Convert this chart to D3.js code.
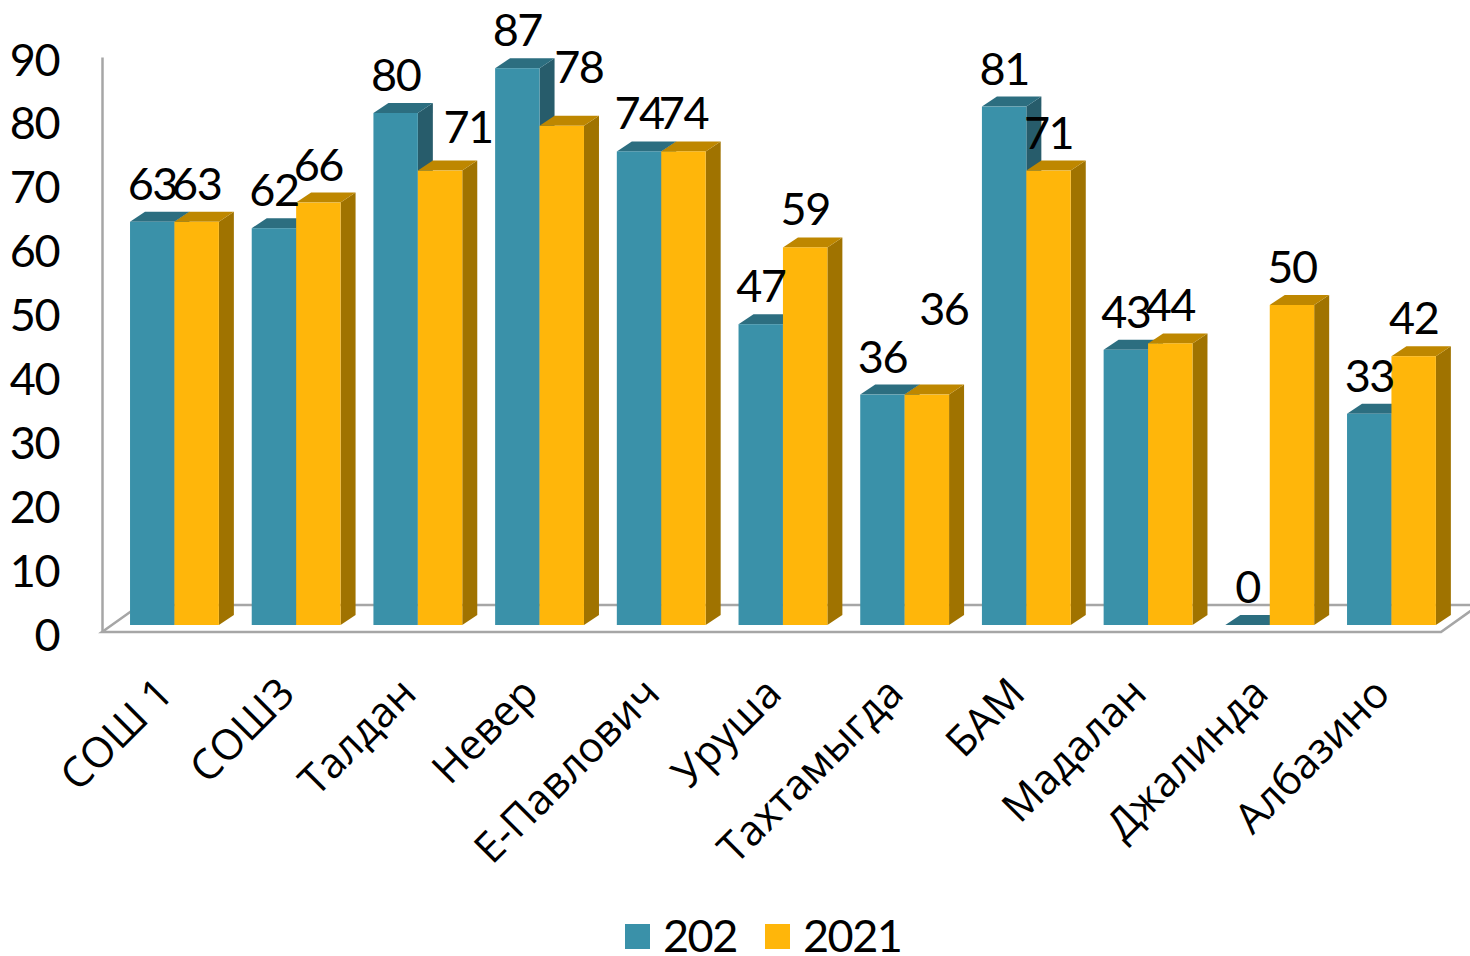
<!DOCTYPE html>
<html>
<head>
<meta charset="utf-8">
<script src="https://cdn.jsdelivr.net/npm/d3@7"></script>
<style>
  html, body { margin: 0; padding: 0; background: #fff; overflow: hidden; }
  text { fill: #000; font-family: Lato, sans-serif; letter-spacing: -1.5px; }
  .x-axis text { font-family: "Open Sans", sans-serif; letter-spacing: 0; }
</style>
</head>
<body>
<div id="chart-area"></div>
<script>
var categories = ["СОШ 1", "СОШ3", "Талдан", "Невер", "Е-Павлович", "Уруша",
                  "Тахтамыгда", "БАМ", "Мадалан", "Джалинда", "Албазино"];
var values202 = [63, 62, 80, 87, 74, 47, 36, 81, 43, 0, 33];
var values2021 = [63, 66, 71, 78, 74, 59, 36, 71, 44, 50, 42];
var yTicks = [0, 10, 20, 30, 40, 50, 60, 70, 80, 90];

var seriesNames = ["202", "2021"];
var seriesValues = [values202, values2021];

// front, top and side colours of each series
var colors = [
  { front: "#3a91a9", top: "#2c6e80", side: "#275c6b" },
  { front: "#ffb60a", top: "#be8700", side: "#a07300" }
];

var width = 1470, height = 956;
var depth = { x: 15, y: 10 };   // bar depth
var floor = { x: 38, y: 27 };   // floor depth

// labels the original chart had dragged away from their bars
var labelMoves = { "2021-Талдан": [28, -6], "2021-Невер": [17, -21], "2021-Тахтамыгда": [17, -48] };

var svg = d3.select("#chart-area")
  .append("svg")
    .attr("width", width)
    .attr("height", height)
    .style("display", "block");

// x scales
var x0 = d3.scaleBand()
    .domain(categories)
    .range([113.6, 1452.3])
    .paddingInner(0.27)
    .paddingOuter(0.135);

var x1 = d3.scaleBand()
    .domain(seriesNames)
    .range([0, x0.bandwidth()]);

// y scale of the bars (front plane) and of the axis (back corner)
var y = d3.scaleLinear().domain([0, 90]).range([625, 49]);
var yAxisScale = d3.scaleLinear().domain([0, 90]).range([632, 57]);

// floor
var gridColor = "#a6a6a6";
var fx0 = 102, fx1 = 1441, fy = yAxisScale(0);
svg.append("path")
    .attr("d", "M" + fx0 + "," + fy + "L" + fx1 + "," + fy
             + "L" + (fx1 + floor.x) + "," + (fy - floor.y)
             + "L" + (fx0 + floor.x) + "," + (fy - floor.y) + "Z")
    .attr("fill", "#fff")
    .attr("stroke", gridColor)
    .attr("stroke-width", 2.5);

// y axis
var yAxisGroup = svg.append("g")
    .attr("class", "y-axis")
    .attr("transform", "translate(" + fx0 + ",0)")
    .call(d3.axisLeft(yAxisScale).tickValues(yTicks).tickSize(0).tickPadding(43));
yAxisGroup.select(".domain").attr("stroke", gridColor).attr("stroke-width", 2.5);
yAxisGroup.selectAll("text")
    .attr("font-size", 45)
    .attr("dy", "0.4em");

// x axis labels
var xAxisGroup = svg.append("g")
    .attr("class", "x-axis")
    .attr("transform", "translate(-20,675)")
    .call(d3.axisBottom(x0).tickSize(0).tickPadding(0));
xAxisGroup.select(".domain").remove();
xAxisGroup.selectAll("text")
    .attr("font-size", 42)
    .attr("text-anchor", "end")
    .attr("dy", "0.7em")
    .attr("transform", "rotate(-45)");

// bars, group by group so that the second series overlaps the first
categories.forEach(function(cat, i){
  seriesNames.forEach(function(name, s){
    var v = seriesValues[s][i];
    var left = x0(cat) + x1(name);
    var right = left + x1.bandwidth();
    var base = y(0), top = y(v);
    var g = svg.append("g").attr("class", "bar");

    if (v > 0) {
      g.append("path")
          .attr("d", "M" + right + "," + base + "L" + right + "," + top
                   + "L" + (right + depth.x) + "," + (top - depth.y)
                   + "L" + (right + depth.x) + "," + (base - depth.y) + "Z")
          .attr("fill", colors[s].side);
    }
    g.append("path")
        .attr("d", "M" + left + "," + top + "L" + right + "," + top
                 + "L" + (right + depth.x) + "," + (top - depth.y)
                 + "L" + (left + depth.x) + "," + (top - depth.y) + "Z")
        .attr("fill", colors[s].top);
    if (v > 0) {
      g.append("rect")
          .attr("x", left)
          .attr("y", top)
          .attr("width", x1.bandwidth())
          .attr("height", base - top)
          .attr("fill", colors[s].front);
    }
  });
});

// value labels on top of everything
categories.forEach(function(cat, i){
  seriesNames.forEach(function(name, s){
    var v = seriesValues[s][i];
    var move = labelMoves[name + "-" + cat] || [0, 0];
    svg.append("text")
        .attr("class", "value-label")
        .attr("x", x0(cat) + x1(name) + x1.bandwidth() / 2 + move[0])
        .attr("y", y(v) - 22 + move[1])
        .attr("text-anchor", "middle")
        .attr("font-size", 45)
        .text(v);
  });
});

// legend
var legendItems = [{ x: 625, tx: 663 }, { x: 765, tx: 803 }];
seriesNames.forEach(function(name, s){
  svg.append("rect")
      .attr("x", legendItems[s].x)
      .attr("y", 924)
      .attr("width", 25)
      .attr("height", 25)
      .attr("fill", colors[s].front);
  svg.append("text")
      .attr("x", legendItems[s].tx)
      .attr("y", 952)
      .attr("font-size", 45)
      .text(name);
});
</script>
</body>
</html>
